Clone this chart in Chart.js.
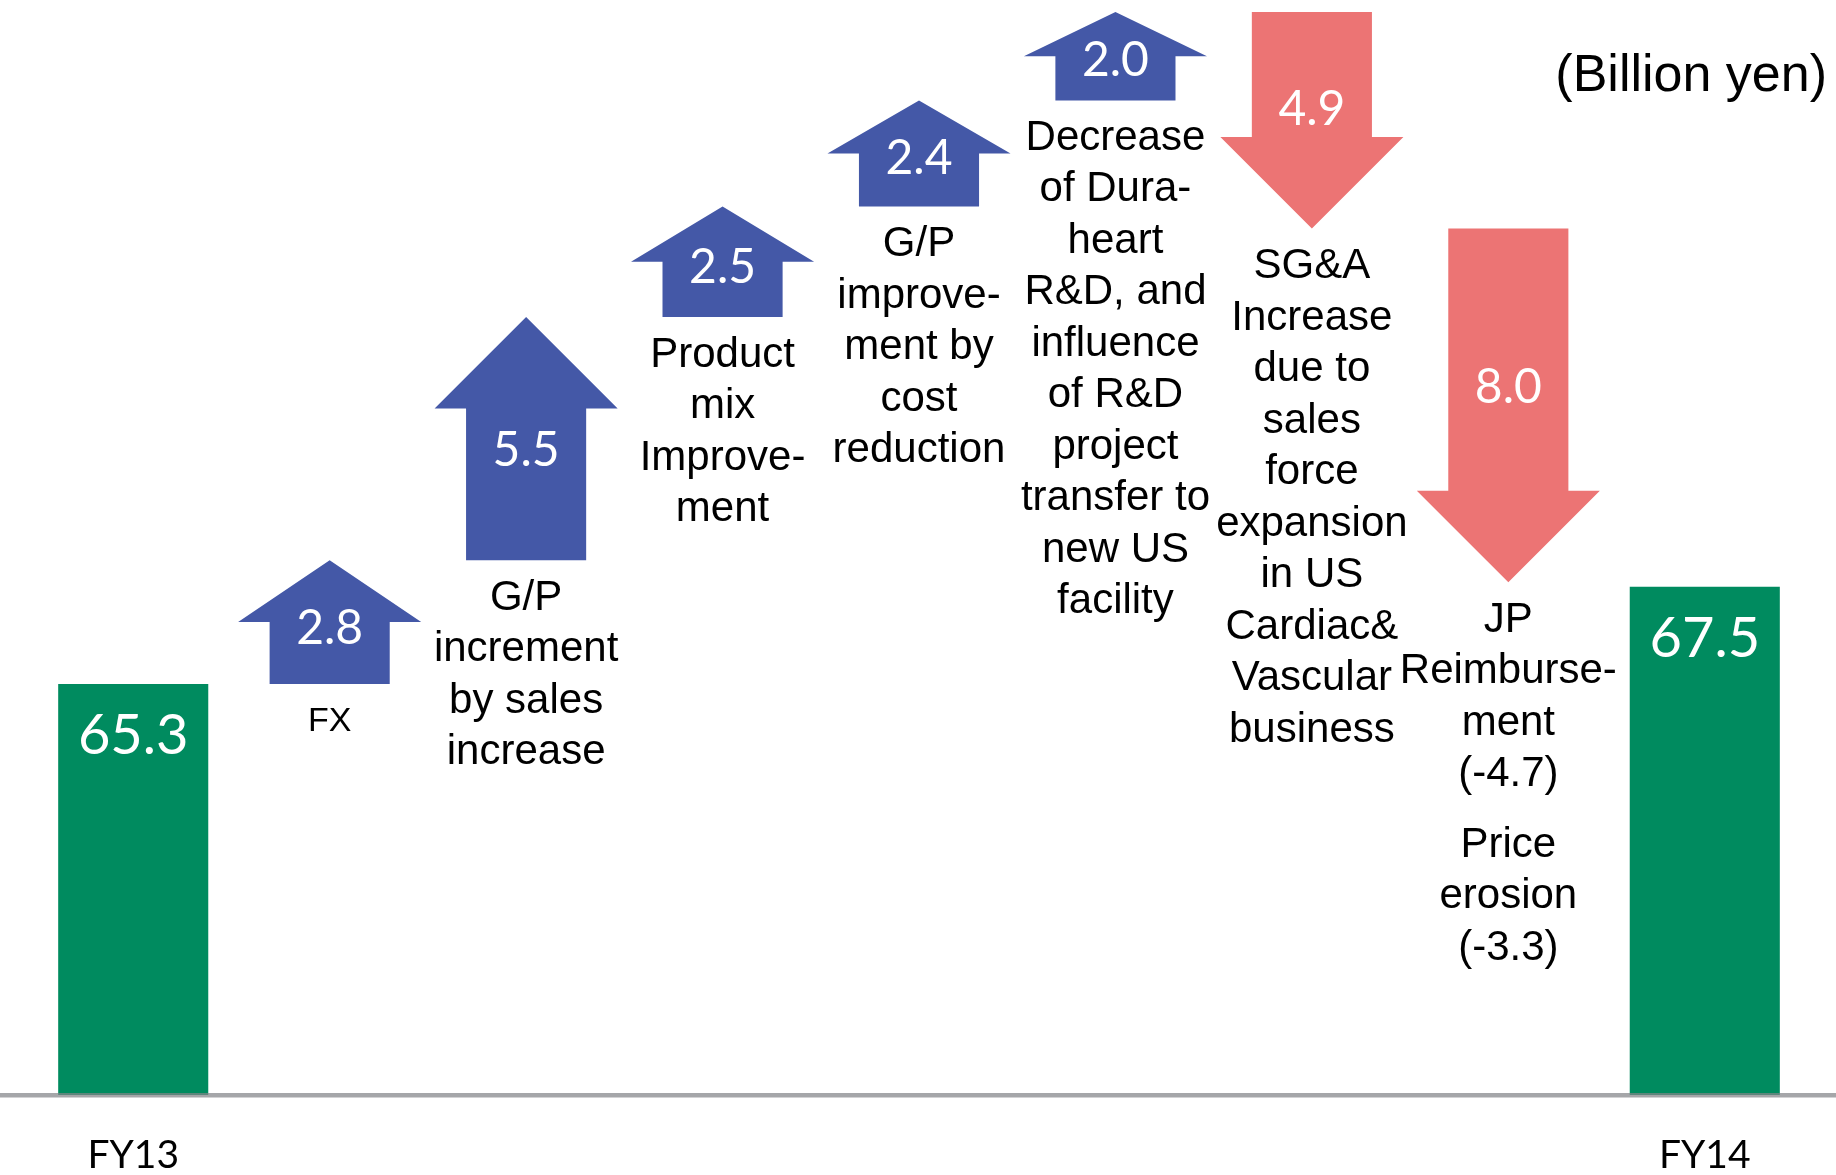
<!DOCTYPE html>
<html>
<head>
<meta charset="utf-8">
<script src="https://cdn.jsdelivr.net/npm/chart.js@4/dist/chart.umd.min.js"></script>
<style>
html,body{margin:0;padding:0;background:#fff;overflow:hidden}
#wrap{width:1836px;height:1175px;position:relative}
</style>
</head>
<body>
<div id="wrap"><canvas id="c" width="1836" height="1175"></canvas></div>
<script>
// ---- data ----
const categories = ['FY13', 'FX', 'G/P increment by sales increase', 'Product mix Improvement',
  'G/P improvement by cost reduction',
  'Decrease of Dura-heart R&D, and influence of R&D project transfer to new US facility',
  'SG&A Increase due to sales force expansion in US Cardiac& Vascular business',
  'JP Reimbursement (-4.7) Price erosion (-3.3)', 'FY14'];
const categoryLines = [
  [],
  ['FX'],
  ['G/P', 'increment', 'by sales', 'increase'],
  ['Product', 'mix', 'Improve-', 'ment'],
  ['G/P', 'improve-', 'ment by', 'cost', 'reduction'],
  ['Decrease', 'of Dura-', 'heart', 'R&D, and', 'influence', 'of R&D', 'project', 'transfer to', 'new US', 'facility'],
  ['SG&A', 'Increase', 'due to', 'sales', 'force', 'expansion', 'in US', 'Cardiac&', 'Vascular', 'business'],
  ['JP', 'Reimburse-', 'ment', '(-4.7)', '', 'Price', 'erosion', '(-3.3)'],
  []
];
const startTotal = 65.3;
const endTotal = 67.5;
const changes = [null, 2.8, 5.5, 2.5, 2.4, 2.0, -4.9, -8.0, null];
const axisLabels = ['FY13', '', '', '', '', '', '', '', 'FY14'];
const unitLabel = '(Billion yen)';

// ---- derived datasets ----
const totalsData = categories.map((c, i) => i === 0 ? startTotal : (i === categories.length - 1 ? endTotal : null));
const stepData = [];
let running = startTotal;
changes.forEach(ch => {
  if (ch === null) { stepData.push(null); return; }
  const next = Math.round((running + ch) * 10) / 10;
  stepData.push([running, next]);
  running = next;
});

// ---- styles ----
const COLORS = { up: '#4458A7', down: '#EC7474', total: '#008B5F', axis: 'rgba(130,132,136,0.72)' };
const labelFont = '"Liberation Sans", Arial, sans-serif';
const numFont = 'Lato, "Open Sans", sans-serif';
const smallLabelSize = { 1: 34 };

const waterfallPlugin = {
  id: 'waterfallArrows',
  afterDatasetsDraw(chart) {
    const ctx = chart.ctx;
    const area = chart.chartArea;
    // baseline across the full width
    ctx.save();
    ctx.fillStyle = COLORS.axis;
    ctx.fillRect(0, area.bottom - 2, chart.width, 4.5);
    ctx.restore();

    // totals value labels
    const tMeta = chart.getDatasetMeta(0);
    tMeta.data.forEach((el, i) => {
      const v = totalsData[i];
      if (v === null) return;
      const p = el.getProps(['x', 'y'], true);
      ctx.save();
      ctx.fillStyle = '#fff';
      ctx.font = '56px ' + numFont;
      ctx.textAlign = 'center';
      ctx.textBaseline = 'middle';
      ctx.fillText(v.toFixed(1), p.x, p.y + 52);
      ctx.restore();
    });

    // arrows
    const meta = chart.getDatasetMeta(1);
    meta.data.forEach((el, i) => {
      const ch = changes[i];
      if (ch === null) return;
      const p = el.getProps(['x', 'y', 'base', 'width'], true);
      const x = p.x, width = p.width;
      const top = Math.min(p.y, p.base), bottom = Math.max(p.y, p.base);
      const up = ch > 0;
      const tip = up ? top : bottom;
      const tail = up ? bottom : top;
      const len = bottom - top;
      const s = up ? -1 : 1; // direction from tail to tip
      const head = Math.min(width * 0.5, len * 0.5);
      const bodyW = width * 0.656;
      const neck = tip - s * head;
      ctx.save();
      ctx.fillStyle = up ? COLORS.up : COLORS.down;
      ctx.beginPath();
      ctx.moveTo(x - bodyW / 2, tail);
      ctx.lineTo(x - bodyW / 2, neck);
      ctx.lineTo(x - width / 2, neck);
      ctx.lineTo(x, tip);
      ctx.lineTo(x + width / 2, neck);
      ctx.lineTo(x + bodyW / 2, neck);
      ctx.lineTo(x + bodyW / 2, tail);
      ctx.closePath();
      ctx.fill();

      // value inside arrow
      ctx.fillStyle = '#fff';
      ctx.font = '48px ' + numFont;
      ctx.textAlign = 'center';
      ctx.textBaseline = 'middle';
      const ty = (tip + tail) / 2 + (tail - tip) * 0.05;
      ctx.fillText(Math.abs(ch).toFixed(1), x, ty);

      // description below arrow
      const lines = categoryLines[i];
      const size = smallLabelSize[i] || 42;
      ctx.fillStyle = '#000';
      ctx.font = size + 'px ' + labelFont;
      let ly = bottom + 38;
      lines.forEach(t => {
        if (t === '') { ly += 18.7; return; }
        ctx.fillText(t, x, ly);
        ly += 51.5;
      });
      ctx.restore();
    });

    // unit label
    ctx.save();
    ctx.fillStyle = '#000';
    ctx.font = '52px ' + labelFont;
    ctx.textAlign = 'right';
    ctx.textBaseline = 'middle';
    ctx.fillText(unitLabel, 1827, 77);
    ctx.restore();
  }
};

new Chart(document.getElementById('c'), {
  type: 'bar',
  data: {
    labels: categories,
    datasets: [
      { label: 'Total', data: totalsData, backgroundColor: COLORS.total,
        barPercentage: 0.764, categoryPercentage: 1, grouped: false },
      { label: 'Change', data: stepData, backgroundColor: 'rgba(0,0,0,0)',
        barPercentage: 0.932, categoryPercentage: 1, grouped: false }
    ]
  },
  options: {
    responsive: false,
    animation: false,
    devicePixelRatio: 1,
    layout: { padding: { top: 12, left: 35, right: 33, bottom: -41 } },
    plugins: { legend: { display: false }, tooltip: { enabled: false }, title: { display: false } },
    scales: {
      x: {
        grid: { display: false, drawTicks: false },
        border: { display: false },
        ticks: {
          autoSkip: false, maxRotation: 0, minRotation: 0, padding: 41,
          color: '#000', font: { family: numFont, size: 39, lineHeight: 1 },
          callback: (v, i) => axisLabels[i]
        }
      },
      y: { display: false, min: 56, max: 80.5 }
    }
  },
  plugins: [waterfallPlugin]
});
</script>
</body>
</html>
